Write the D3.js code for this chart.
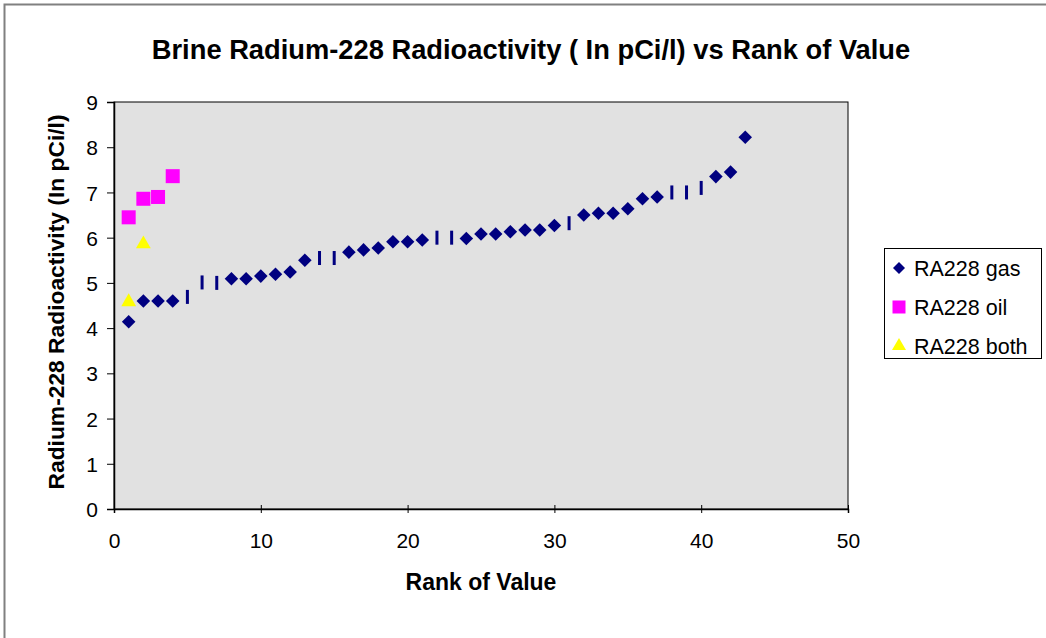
<!DOCTYPE html>
<html>
<head>
<meta charset="utf-8">
<script src="https://cdn.jsdelivr.net/npm/d3@7"></script>
<style>
  body { margin: 0; background: #fff; }
  svg text { font-family: "Liberation Sans", Arial, sans-serif; fill: #000; }
</style>
</head>
<body>
<div id="chart"></div>
<script>
// values, rank -> Ra-228 (ln pCi/l)
const gasRank = d3.range(1, 44);
const gasValue = [4.14, 4.60, 4.60, 4.60, 4.69, 5.01, 5.00, 5.09, 5.09, 5.15,
                  5.19, 5.24, 5.50, 5.55, 5.55, 5.68, 5.73, 5.77, 5.91, 5.91,
                  5.95, 6.00, 6.00, 5.98, 6.08, 6.08, 6.13, 6.17, 6.17, 6.27,
                  6.32, 6.50, 6.54, 6.54, 6.64, 6.86, 6.90, 7.00, 7.00, 7.10,
                  7.35, 7.45, 8.22];
// ranks whose diamond came out squashed to a thin bar in the original
const squashedRanks = [5, 6, 7, 14, 15, 22, 23, 31, 38, 39, 40];
const oilRank = [1, 2, 3, 4];
const oilValue = [6.45, 6.86, 6.90, 7.36];
const bothRank = [1, 2];
const bothValue = [4.58, 5.86];
const xTicks = [0, 10, 20, 30, 40, 50];
const yTicks = [0, 1, 2, 3, 4, 5, 6, 7, 8, 9];
const seriesNames = ['RA228 gas', 'RA228 oil', 'RA228 both'];

const width = 1046, height = 638;
const plotL = 114, plotR = 848, plotT = 102, plotB = 509;

const svg = d3.select('#chart').append('svg')
  .attr('width', width).attr('height', height);

// outer chart border
svg.append('rect')
  .attr('x', 4.5).attr('y', 4.5).attr('width', width + 10).attr('height', height + 10)
  .attr('fill', '#fff').attr('stroke', '#808080').attr('stroke-width', 2);

const x = d3.scaleLinear().domain([0, 50]).range([plotL, plotR]);
const y = d3.scaleLinear().domain([0, 9]).range([plotB, plotT]);

// plot area
svg.append('rect')
  .attr('x', plotL).attr('y', plotT).attr('width', plotR - plotL).attr('height', plotB - plotT)
  .attr('fill', '#e1e1e1').attr('stroke', '#000').attr('stroke-width', 1);

const yAxis = svg.append('g')
  .attr('transform', `translate(${plotL},0)`)
  .call(d3.axisLeft(y).tickValues(yTicks).tickSize(7).tickPadding(9));
const xAxis = svg.append('g')
  .attr('transform', `translate(0,${plotB})`)
  .call(d3.axisBottom(x).tickValues(xTicks).tickSize(4).tickPadding(20));
xAxis.selectAll('.tick line').attr('y1', -4);
[yAxis, xAxis].forEach(g => {
  g.select('.domain').attr('stroke', '#000').attr('stroke-width', 1.5);
  g.selectAll('.tick line').attr('stroke', '#000');
  g.selectAll('.tick text').style('font-size', '21px').attr('fill', '#000');
});
yAxis.selectAll('.tick text').attr('dy', '0.36em');

// markers
const navy = '#000080', pink = '#ff00ff', yellow = '#ffff00';
const diamond = d3.symbol().type(d3.symbolSquare).size(92);
const gas = gasRank.map((r, i) => ({r, v: gasValue[i]}));

svg.append('g').selectAll('path')
  .data(gas.filter(d => !squashedRanks.includes(d.r)))
  .join('path')
  .attr('d', diamond)
  .attr('transform', d => `translate(${x(d.r)},${y(d.v)}) rotate(45)`)
  .attr('fill', navy);

svg.append('g').selectAll('rect')
  .data(gas.filter(d => squashedRanks.includes(d.r)))
  .join('rect')
  .attr('x', d => x(d.r) - 1.5).attr('y', d => y(d.v) - 7)
  .attr('width', 3).attr('height', 14)
  .attr('fill', navy);

svg.append('g').selectAll('rect')
  .data(oilRank.map((r, i) => ({r, v: oilValue[i]})))
  .join('rect')
  .attr('x', d => x(d.r) - 7).attr('y', d => y(d.v) - 7)
  .attr('width', 14).attr('height', 14)
  .attr('fill', pink);

const tri = d3.symbol().type(d3.symbolTriangle).size(95);
svg.append('g').selectAll('path')
  .data(bothRank.map((r, i) => ({r, v: bothValue[i]})))
  .join('path')
  .attr('d', tri)
  .attr('transform', d => `translate(${x(d.r)},${y(d.v)})`)
  .attr('fill', yellow);

// titles
svg.append('text')
  .attr('x', 531).attr('y', 59).attr('text-anchor', 'middle')
  .style('font-size', '27.3px').style('font-weight', 'bold')
  .text('Brine Radium-228 Radioactivity ( In pCi/l) vs Rank of Value');

svg.append('text')
  .attr('x', 481).attr('y', 590).attr('text-anchor', 'middle')
  .style('font-size', '23px').style('font-weight', 'bold')
  .text('Rank of Value');

svg.append('text')
  .attr('transform', 'translate(64,302) rotate(-90)').attr('text-anchor', 'middle')
  .style('font-size', '22.8px').style('font-weight', 'bold')
  .text('Radium-228 Radioactivity (In pCi/l)');

// legend
const legend = svg.append('g');
legend.append('rect')
  .attr('x', 884.5).attr('y', 248.5).attr('width', 157).attr('height', 110)
  .attr('fill', '#fff').attr('stroke', '#000');
const legendY = d3.scalePoint().domain(seriesNames).range([268, 346]);
const row = legend.selectAll('g').data(seriesNames).join('g')
  .attr('transform', d => `translate(899,${legendY(d)})`);
row.append('path')
  .attr('d', (d, i) => i === 0 ? d3.symbol().type(d3.symbolSquare).size(72)()
    : i === 1 ? d3.symbol().type(d3.symbolSquare).size(169)()
    : d3.symbol().type(d3.symbolTriangle).size(85)())
  .attr('transform', (d, i) => i === 0 ? 'rotate(45)' : null)
  .attr('fill', (d, i) => [navy, pink, yellow][i]);
row.append('text')
  .attr('x', 15).attr('dy', '0.36em')
  .style('font-size', '21.5px')
  .text(d => d);
</script>
</body>
</html>
